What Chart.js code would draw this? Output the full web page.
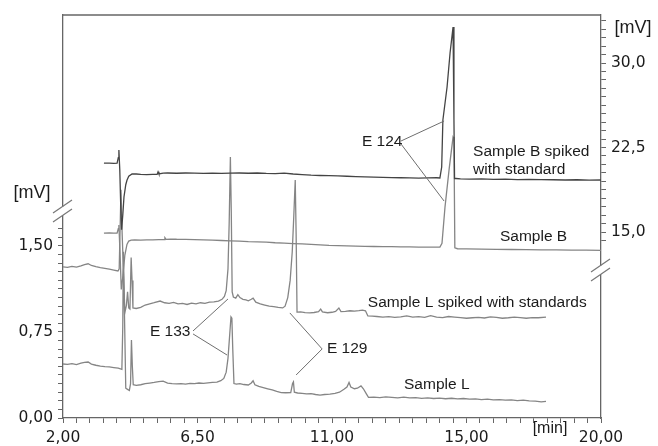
<!DOCTYPE html>
<html>
<head>
<meta charset="utf-8">
<script src="https://cdn.jsdelivr.net/npm/chart.js@4.4.1/dist/chart.umd.min.js"></script>
<style>
  html, body { margin: 0; padding: 0; background: #fff; }
  #wrap { width: 658px; height: 446px; }
</style>
</head>
<body>
<div id="wrap"><canvas id="chroma" width="658" height="446"></canvas></div>
<script>
// Chromatograms: [retention time (min), signal (mV)]
// Sample B traces use the right axis, Sample L traces the left axis

const sampleBSpiked = [
  [3.37,21.12],[3.55,21.12],[3.70,21.10],[3.81,21.12],[3.85,21.6],[3.87,22.28],[3.90,20.5],[3.93,17.5],
  [3.96,15.2],[4.00,16.5],[4.04,18.11],[4.10,19.2],[4.14,19.6],[4.20,19.95],[4.31,20.15],[4.45,20.15],
  [4.60,20.12],[4.80,20.10],[5.00,20.12],[5.15,20.12],[5.18,20.35],[5.21,20.15],[5.35,20.22],[5.50,20.24],
  [5.80,20.22],[6.10,20.24],[6.40,20.22],[6.70,20.20],[7.00,20.22],[7.30,20.20],[7.60,20.22],[7.90,20.24],
  [8.20,20.22],[8.50,20.24],[8.80,20.20],[9.10,20.18],[9.40,20.22],[9.70,20.15],[10.00,20.10],[10.30,20.05],
  [10.60,20.02],[10.90,20.00],[11.20,19.98],[11.50,19.95],[11.80,19.92],[12.10,19.90],[12.40,19.88],[12.70,19.85],
  [13.00,19.83],[13.30,19.82],[13.60,19.80],[13.90,19.79],[14.20,19.80],[14.50,19.82],[14.61,19.80],[14.67,20.77],
  [14.71,24.94],[14.85,27.87],[14.95,30.89],[15.05,33.19],[15.08,25.0],[15.10,19.75],[15.15,19.75],[15.30,19.72],
  [15.60,19.70],[16.00,19.72],[16.40,19.68],[16.80,19.70],[17.20,19.66],[17.60,19.68],[18.00,19.65],[18.40,19.64],
  [18.80,19.62],[19.20,19.64],[19.60,19.60],[20.00,19.62]
];

const sampleB = [
  [3.37,14.91],[3.55,14.93],[3.70,14.90],[3.81,14.91],[3.85,15.3],[3.87,15.62],[3.91,13.0],[3.95,9.9],
  [4.00,11.0],[4.07,12.96],[4.14,13.9],[4.20,14.2],[4.28,14.29],[4.40,14.30],[4.60,14.28],[4.80,14.30],
  [5.00,14.30],[5.20,14.32],[5.38,14.32],[5.41,14.50],[5.45,14.35],[5.60,14.38],[5.80,14.36],[6.10,14.35],
  [6.40,14.33],[6.70,14.30],[7.00,14.28],[7.30,14.25],[7.60,14.22],[7.90,14.20],[8.20,14.15],[8.50,14.12],
  [8.80,14.10],[9.10,14.05],[9.40,14.02],[9.70,13.98],[10.00,13.95],[10.30,13.90],[10.60,13.86],[10.90,13.82],
  [11.20,13.80],[11.50,13.77],[11.80,13.75],[12.10,13.73],[12.40,13.72],[12.70,13.70],[13.00,13.70],[13.30,13.69],
  [13.60,13.68],[13.90,13.67],[14.20,13.67],[14.50,13.66],[14.61,13.67],[14.68,14.0],[14.78,17.2],[14.92,20.6],
  [15.05,23.43],[15.08,23.3],[15.11,13.6],[15.20,13.52],[15.50,13.50],[16.00,13.48],[16.50,13.46],[17.00,13.45],
  [17.50,13.44],[18.00,13.42],[18.50,13.42],[19.00,13.40],[19.50,13.40],[20.00,13.38]
];

const sampleLSpiked = [
  [2.00,1.317],[2.15,1.313],[2.30,1.322],[2.45,1.315],[2.60,1.326],[2.72,1.338],[2.84,1.345],[2.95,1.330],
  [3.10,1.320],[3.25,1.312],[3.40,1.305],[3.55,1.298],[3.70,1.290],[3.84,1.282],[3.88,1.30],[3.94,1.99],
  [3.98,1.60],[4.07,0.92],[4.12,0.98],[4.16,1.10],[4.20,0.96],[4.24,0.95],[4.28,1.40],[4.31,1.20],
  [4.34,0.96],[4.45,0.955],[4.60,0.965],[4.75,0.985],[4.90,0.995],[5.05,1.005],[5.25,1.020],[5.40,1.005],
  [5.55,1.000],[5.70,1.008],[5.85,0.995],[6.00,1.000],[6.15,0.990],[6.30,1.002],[6.45,0.995],[6.60,1.005],
  [6.75,1.000],[6.90,1.010],[7.05,1.012],[7.20,1.020],[7.32,1.035],[7.40,1.060],[7.46,1.110],[7.52,1.300],
  [7.56,1.700],[7.60,2.276],[7.63,1.800],[7.66,1.100],[7.70,1.055],[7.78,1.045],[7.85,1.075],[7.92,1.050],
  [8.02,1.035],[8.12,1.030],[8.20,1.022],[8.30,1.035],[8.36,1.045],[8.45,1.010],[8.60,0.995],[8.75,0.985],
  [8.90,0.975],[9.05,0.972],[9.20,0.965],[9.35,0.960],[9.43,0.975],[9.52,1.050],[9.60,1.200],[9.67,1.450],
  [9.72,1.750],[9.77,2.076],[9.80,1.600],[9.83,0.924],[9.95,0.925],[10.10,0.918],[10.26,0.916],[10.40,0.920],
  [10.55,0.928],[10.62,0.950],[10.68,0.925],[10.85,0.918],[11.00,0.922],[11.12,0.930],[11.23,0.959],[11.30,0.928],
  [11.45,0.930],[11.60,0.935],[11.75,0.932],[11.90,0.936],[12.02,0.940],[12.12,0.935],[12.20,0.890],[12.35,0.888],
  [12.50,0.885],[12.70,0.880],[12.90,0.884],[13.10,0.878],[13.30,0.882],[13.50,0.890],[13.70,0.880],[13.90,0.884],
  [14.10,0.878],[14.30,0.892],[14.50,0.880],[14.70,0.875],[14.90,0.885],[15.10,0.880],[15.30,0.876],[15.50,0.870],
  [15.70,0.874],[15.90,0.878],[16.10,0.872],[16.30,0.882],[16.50,0.878],[16.70,0.870],[16.90,0.874],[17.10,0.880],
  [17.30,0.876],[17.50,0.870],[17.70,0.876],[17.90,0.874],[18.16,0.880]
];

const sampleL = [
  [2.00,0.471],[2.15,0.468],[2.30,0.474],[2.45,0.465],[2.60,0.478],[2.72,0.485],[2.84,0.488],[2.95,0.470],
  [3.10,0.460],[3.25,0.452],[3.40,0.448],[3.55,0.445],[3.70,0.440],[3.85,0.435],[3.97,0.425],[4.00,0.80],
  [4.02,1.45],[4.05,1.00],[4.10,0.26],[4.16,0.25],[4.22,0.24],[4.26,0.30],[4.29,0.68],[4.32,0.45],
  [4.35,0.29],[4.45,0.285],[4.60,0.290],[4.75,0.300],[4.90,0.305],[5.05,0.310],[5.20,0.318],[5.35,0.322],
  [5.50,0.305],[5.65,0.300],[5.80,0.298],[5.95,0.300],[6.10,0.295],[6.25,0.302],[6.40,0.300],[6.55,0.305],
  [6.70,0.302],[6.85,0.306],[7.00,0.310],[7.15,0.312],[7.28,0.325],[7.38,0.345],[7.46,0.400],[7.52,0.520],
  [7.57,0.700],[7.62,0.881],[7.65,0.870],[7.68,0.600],[7.72,0.300],[7.80,0.295],[7.92,0.300],[8.05,0.292],
  [8.20,0.288],[8.30,0.305],[8.36,0.325],[8.42,0.290],[8.55,0.275],[8.70,0.265],[8.85,0.255],[9.00,0.245],
  [9.15,0.232],[9.30,0.222],[9.45,0.220],[9.62,0.222],[9.68,0.300],[9.71,0.314],[9.74,0.225],[9.85,0.218],
  [10.00,0.215],[10.15,0.210],[10.30,0.212],[10.45,0.205],[10.60,0.200],[10.75,0.205],[10.93,0.208],[11.10,0.215],
  [11.25,0.225],[11.40,0.250],[11.50,0.270],[11.57,0.310],[11.63,0.270],[11.75,0.255],[11.85,0.260],[11.97,0.280],
  [12.05,0.255],[12.15,0.210],[12.22,0.180],[12.40,0.182],[12.60,0.178],[12.80,0.185],[13.00,0.180],[13.20,0.176],
  [13.40,0.182],[13.60,0.175],[13.80,0.178],[14.00,0.172],[14.20,0.176],[14.40,0.170],[14.60,0.174],[14.80,0.168],
  [15.00,0.172],[15.20,0.166],[15.40,0.170],[15.60,0.164],[15.80,0.166],[16.00,0.160],[16.20,0.164],[16.40,0.158],
  [16.60,0.160],[16.80,0.156],[17.00,0.158],[17.20,0.152],[17.40,0.155],[17.60,0.150],[17.80,0.148],[18.00,0.140],
  [18.16,0.145]
];

// Axis ticks (labels as printed on the original figure)
const xMajorTicks = [2, 6.5, 11, 15.5, 20];
const xMajorLabels = ['2,00', '6,50', '11,00', '15,00', '20,00'];
const leftMajorTicks = [0, 0.75, 1.5];
const leftMajorLabels = ['0,00', '0,75', '1,50'];
const rightMajorTicks = [15, 22.5, 30];
const rightMajorLabels = ['15,0', '22,5', '30,0'];

// Peak / trace annotations: [text, time, axis, mV]
const traceLabels = [
  ['E 124', 12.00, 'y2', 22.99],
  ['Sample B spiked', 15.72, 'y2', 22.10],
  ['with standard', 15.72, 'y2', 20.50],
  ['Sample B', 16.62, 'y2', 14.56],
  ['Sample L spiked with standards', 12.20, 'y', 1.003],
  ['Sample L', 13.41, 'y', 0.288],
  ['E 133', 4.91, 'y', 0.75],
  ['E 129', 10.83, 'y', 0.60]
];
// Leader lines: [axis, t1, v1, t2, v2]
const leaderLines = [
  ['y2', 13.31, 23.08, 14.75, 24.85],
  ['y2', 13.31, 22.81, 14.75, 17.75],
  ['y', 6.35, 0.759, 7.52, 1.038],
  ['y', 6.35, 0.733, 7.49, 0.549],
  ['y', 10.67, 0.602, 9.59, 0.916],
  ['y', 10.67, 0.602, 9.80, 0.375]
];

const axisColor = '#666';
const textColor = '#1b1b1b';
const tickFont = { family: '"DejaVu Sans", sans-serif', size: 15.5 };

function stepTicks(from, to, step) {
  const out = [];
  const n = Math.round((to - from) / step);
  for (let i = 0; i <= n; i++) out.push(+(from + i * step).toFixed(3));
  return out;
}

function majorLabel(value, majors, labels) {
  const i = majors.findIndex(m => Math.abs(m - value) < 1e-6);
  return i >= 0 ? labels[i] : '';
}

function axisGrid() {
  return { drawOnChartArea: false, drawTicks: true, tickLength: 5, color: axisColor, lineWidth: 1 };
}

const toPoints = pairs => pairs.map(p => ({ x: p[0], y: p[1] }));

// frame top, axis breaks, labels and leader lines
const decorPlugin = {
  id: 'decor',
  afterDraw(chart) {
    const { ctx, chartArea: a, scales } = chart;
    ctx.save();
    ctx.strokeStyle = axisColor;
    ctx.lineWidth = 1.3;
    ctx.beginPath();
    ctx.moveTo(a.left, a.top);
    ctx.lineTo(a.right, a.top);
    ctx.stroke();

    function axisBreak(x, yc) {
      ctx.fillStyle = '#fff';
      ctx.fillRect(x - 2, yc - 4, 4, 8);
      ctx.strokeStyle = '#777';
      ctx.lineWidth = 1.2;
      [-4.5, 4.5].forEach(off => {
        ctx.beginPath();
        ctx.moveTo(x - 10, yc + off + 6.5);
        ctx.lineTo(x + 9, yc + off - 6.5);
        ctx.stroke();
      });
    }
    axisBreak(a.left, 211);
    axisBreak(a.right, 270);

    // leader lines
    ctx.strokeStyle = '#6e6e6e';
    ctx.lineWidth = 1;
    leaderLines.forEach(([ax, t1, v1, t2, v2]) => {
      ctx.beginPath();
      ctx.moveTo(scales.x.getPixelForValue(t1), scales[ax].getPixelForValue(v1));
      ctx.lineTo(scales.x.getPixelForValue(t2), scales[ax].getPixelForValue(v2));
      ctx.stroke();
    });

    ctx.fillStyle = textColor;
    ctx.textBaseline = 'middle';
    ctx.textAlign = 'left';
    ctx.font = '15.5px "Liberation Sans", Arial, sans-serif';
    traceLabels.forEach(([txt, t, ax, v]) => {
      ctx.fillText(txt, scales.x.getPixelForValue(t), scales[ax].getPixelForValue(v));
    });

    // unit labels
    ctx.textAlign = 'center';
    ctx.font = '18px "Liberation Sans", Arial, sans-serif';
    ctx.fillText('[mV]', 32, 193);
    ctx.fillText('[mV]', 633, 28);
    ctx.font = '16px "Liberation Sans", Arial, sans-serif';
    ctx.fillText('[min]', 550, 429);
    ctx.restore();
  }
};

const lineStyle = { borderWidth: 1.3, pointRadius: 0, tension: 0, fill: false };

new Chart(document.getElementById('chroma').getContext('2d'), {
  type: 'line',
  data: {
    datasets: [
      { label: 'Sample B spiked with standard', data: toPoints(sampleBSpiked), yAxisID: 'y2', borderColor: '#444', ...lineStyle },
      { label: 'Sample B', data: toPoints(sampleB), yAxisID: 'y2', borderColor: '#858585', ...lineStyle },
      { label: 'Sample L spiked with standards', data: toPoints(sampleLSpiked), yAxisID: 'y', borderColor: '#858585', ...lineStyle },
      { label: 'Sample L', data: toPoints(sampleL), yAxisID: 'y', borderColor: '#858585', ...lineStyle }
    ]
  },
  options: {
    responsive: false,
    animation: false,
    devicePixelRatio: 1,
    layout: { padding: { top: 15, left: 0, right: 0, bottom: 0 } },
    plugins: { legend: { display: false }, tooltip: { enabled: false } },
    scales: {
      x: {
        type: 'linear', min: 2, max: 20,
        afterBuildTicks: s => { s.ticks = stepTicks(2, 20, 0.45).map(v => ({ value: v })); },
        afterFit: s => { s.height = 28; },
        grid: axisGrid(),
        border: { display: true, color: axisColor, width: 1.3 },
        ticks: { autoSkip: false, maxRotation: 0, padding: 6, color: textColor, font: tickFont,
                 callback: v => majorLabel(v, xMajorTicks, xMajorLabels) }
      },
      y: {
        position: 'left', min: 0, max: 3.514,
        afterBuildTicks: s => { s.ticks = stepTicks(0, 1.65, 0.075).map(v => ({ value: v })); },
        afterFit: s => { s.width = 63; },
        grid: axisGrid(),
        border: { display: true, color: axisColor, width: 1.3 },
        ticks: { autoSkip: false, padding: 5, color: textColor, font: tickFont,
                 callback: v => majorLabel(v, leftMajorTicks, leftMajorLabels) }
      },
      y2: {
        position: 'right', min: -1.5, max: 34.26,
        afterBuildTicks: s => { s.ticks = stepTicks(14.25, 33.75, 0.75).map(v => ({ value: v })); },
        afterFit: s => { s.width = 57; },
        grid: axisGrid(),
        border: { display: true, color: axisColor, width: 1.3 },
        ticks: { autoSkip: false, padding: 5, color: textColor, font: tickFont,
                 callback: v => majorLabel(v, rightMajorTicks, rightMajorLabels) }
      }
    }
  },
  plugins: [decorPlugin]
});
</script>
</body>
</html>
